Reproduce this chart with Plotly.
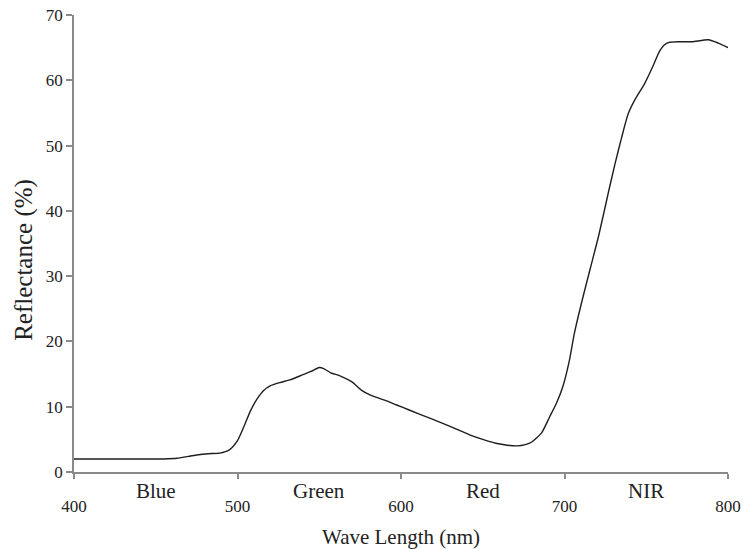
import plotly.graph_objects as go

# Data
wavelength = [400, 420, 440, 455, 463, 470, 475, 482, 489, 495, 500, 504, 508, 512, 516,
              520, 526, 532, 540, 545, 550, 553, 557, 563, 570, 576, 581, 590, 597, 605,
              618, 630, 642, 650, 658, 665, 671, 676, 680, 686, 691, 695, 699, 703, 706,
              711, 716, 721, 727, 731, 735, 739, 743, 749, 754, 758, 761, 764, 770, 778,
              788, 794, 800]
reflectance = [2.0, 2.0, 2.0, 2.0, 2.1, 2.4, 2.6, 2.8, 2.9, 3.4, 4.8, 7.0, 9.4, 11.2, 12.5,
               13.2, 13.7, 14.1, 14.9, 15.4, 16.0, 15.8, 15.2, 14.7, 13.8, 12.5, 11.8, 11.0, 10.3, 9.5,
               8.2, 7.0, 5.7, 5.0, 4.4, 4.1, 4.0, 4.2, 4.6, 6.0, 8.5, 10.5, 13.1, 17.1, 21.2,
               26.5, 31.4, 36.3, 43.0, 47.3, 51.3, 54.9, 57.0, 59.5, 62.1, 64.4, 65.4, 65.8, 65.9, 65.9,
               66.2, 65.7, 65.0]

x_ticks = [400, 500, 600, 700, 800]
y_ticks = [0, 10, 20, 30, 40, 50, 60, 70]
band_names = ["Blue", "Green", "Red", "NIR"]
band_centers = [450, 550, 650, 750]

FONT = "Liberation Serif, Times New Roman, serif"
AXIS_COLOR = "#8a8a8a"

fig = go.Figure()
fig.add_trace(go.Scatter(
    x=wavelength, y=reflectance, mode="lines",
    line=dict(color="#1e1e1e", width=1.4, shape="spline", smoothing=0.6),
    showlegend=False, hoverinfo="skip",
))

for name, c in zip(band_names, band_centers):
    fig.add_annotation(x=c, xref="x", y=0, yref="paper", text=name, showarrow=False,
                       yanchor="middle", yshift=-19,
                       font=dict(family=FONT, size=21, color="#222"))

fig.add_annotation(x=600, xref="x", y=0, yref="paper", text="Wave Length (nm)",
                   showarrow=False, yanchor="middle", yshift=-65,
                   font=dict(family=FONT, size=21, color="#222"))
fig.add_annotation(x=0, xref="paper", xshift=-50, y=32.5, yref="y", text="Reflectance (%)",
                   showarrow=False, textangle=-90, xanchor="center", yanchor="middle",
                   font=dict(family=FONT, size=25, color="#222"))

fig.update_layout(
    width=743, height=549,
    margin=dict(l=74, r=15, t=15, b=77, autoexpand=False),
    paper_bgcolor="white", plot_bgcolor="white",
    font=dict(family=FONT, size=17, color="#222"),
    xaxis=dict(range=[400, 800], tickvals=x_ticks, ticktext=[str(v) for v in x_ticks],
               showgrid=False, zeroline=False, showline=True, linecolor=AXIS_COLOR, linewidth=1.5,
               ticks="outside", ticklen=5, tickwidth=1.5, tickcolor=AXIS_COLOR,
               ticklabelstandoff=13, automargin=False),
    yaxis=dict(range=[0, 70], tickvals=y_ticks, ticktext=[str(v) for v in y_ticks],
               showgrid=False, zeroline=False, showline=True, linecolor=AXIS_COLOR, linewidth=1.5,
               ticks="outside", ticklen=6, tickwidth=1.5, tickcolor=AXIS_COLOR,
               automargin=False),
)

fig.write_html("out.html")
